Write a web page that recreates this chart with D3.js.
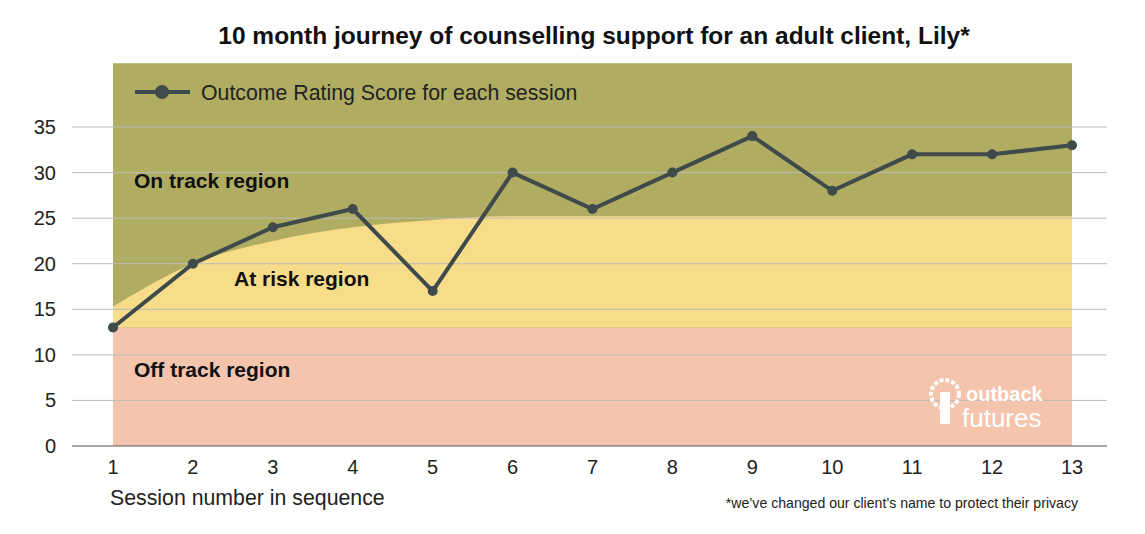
<!DOCTYPE html><html><head><meta charset="utf-8"><script src="https://cdn.jsdelivr.net/npm/d3@7"></script>
<style>body{margin:0;background:#fff}text{font-family:"Liberation Sans",Arial,sans-serif}</style></head><body>
<svg id="c" width="1145" height="534"></svg>
<script>
const sessions=[1,2,3,4,5,6,7,8,9,10,11,12,13];
const scores=[13,20,24,26,17,30,26,30,34,28,32,32,33];
const riskTop=[15.3,20,22.5,24,24.8,25.2,25.2,25.2,25.2,25.2,25.2,25.2,25.2];
const offTrackTop=13;
const regionTop=42;
const yTicks=[0,5,10,15,20,25,30,35];
const svg=d3.select("#c");
const x=d3.scaleLinear().domain([1,13]).range([113,1072]);
const y=d3.scaleLinear().domain([0,35]).range([446,127]);
const g=svg.append("g");
g.append("rect").attr("x",x(1)).attr("width",x(13)-x(1)).attr("y",y(regionTop)).attr("height",y(0)-y(regionTop)).attr("fill","#b0ad62");
g.append("path").datum(sessions).attr("fill","#f7dc8a").attr("d",d3.area().x(d=>x(d)).y0(y(offTrackTop)).y1((d,i)=>y(riskTop[i])).curve(d3.curveMonotoneX));
g.append("rect").attr("x",x(1)).attr("width",x(13)-x(1)).attr("y",y(offTrackTop)).attr("height",y(0)-y(offTrackTop)).attr("fill","#f4c4ad");
yTicks.forEach(t=>{g.append("line").attr("x1",72).attr("x2",1107).attr("y1",y(t)).attr("y2",y(t)).attr("stroke",t===0?"#555":"#bbb").attr("stroke-width",1);
 g.append("text").attr("x",56).attr("y",y(t)+7).attr("text-anchor","end").attr("font-size",20).attr("fill","#222").text(t);});
sessions.forEach(s=>g.append("text").attr("x",x(s)).attr("y",474).attr("text-anchor","middle").attr("font-size",20).attr("fill","#222").text(s));
const lbl=(t,xx,yy)=>g.append("text").attr("x",xx).attr("y",yy).attr("font-size",21).attr("font-weight","bold").attr("fill","#111").text(t);
lbl("On track region",134,188);lbl("At risk region",234,286);lbl("Off track region",134,377);
g.append("path").datum(scores).attr("fill","none").attr("stroke","#3f4a4a").attr("stroke-width",4).attr("d",d3.line().x((d,i)=>x(sessions[i])).y(d=>y(d)));
g.selectAll("circle.p").data(scores).join("circle").attr("cx",(d,i)=>x(sessions[i])).attr("cy",d=>y(d)).attr("r",5).attr("fill","#3f4a4a");
g.append("line").attr("x1",135).attr("x2",190).attr("y1",92).attr("y2",92).attr("stroke","#3f4a4a").attr("stroke-width",4);
g.append("circle").attr("cx",162).attr("cy",92).attr("r",7).attr("fill","#3f4a4a");
g.append("text").attr("x",201).attr("y",100).attr("font-size",21.3).attr("fill","#222").text("Outcome Rating Score for each session");
svg.append("text").attr("x",594).attr("y",44).attr("text-anchor","middle").attr("font-size",24.5).attr("font-weight","bold").attr("fill","#111").text("10 month journey of counselling support for an adult client, Lily*");
svg.append("text").attr("x",110).attr("y",505).attr("font-size",21.3).attr("fill","#222").text("Session number in sequence");
svg.append("text").attr("x",1078).attr("y",508).attr("text-anchor","end").attr("font-size",14.1).attr("fill","#222").text("*we’ve changed our client’s name to protect their privacy");
// logo
svg.append("circle").attr("cx",945).attr("cy",394).attr("r",14).attr("fill","none").attr("stroke","#fff").attr("stroke-width",4).attr("stroke-dasharray","4 2");
svg.append("rect").attr("x",940).attr("y",392).attr("width",10).attr("height",32).attr("fill","#fff");
svg.append("text").attr("x",966).attr("y",401).attr("font-size",20).attr("font-weight","bold").attr("fill","#fff").text("outback");
svg.append("text").attr("x",962).attr("y",427).attr("font-size",26).attr("fill","#fff").text("futures");
</script></body></html>
